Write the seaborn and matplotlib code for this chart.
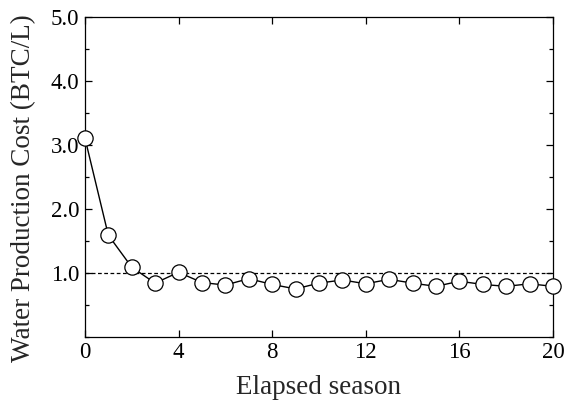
"""Water production cost over elapsed seasons."""
import numpy as np
import pandas as pd
import matplotlib
matplotlib.use("Agg")
import matplotlib.pyplot as plt
from matplotlib.ticker import MultipleLocator, FixedLocator
import seaborn as sns

# data
seasons = list(range(0, 21))
cost = [3.11, 1.59, 1.09, 0.84, 1.01, 0.85, 0.81, 0.91, 0.82, 0.75, 0.84,
        0.89, 0.83, 0.90, 0.84, 0.79, 0.87, 0.82, 0.79, 0.83, 0.79]
reference_cost = 1.0

x_ticks = [0, 4, 8, 12, 16, 20]
y_ticks = [1.0, 2.0, 3.0, 4.0, 5.0]

sns.set_style("ticks")
plt.rcParams['font.family'] = ['Liberation Serif', 'DejaVu Serif']
plt.rcParams['mathtext.fontset'] = 'stix'

df = pd.DataFrame({'season': seasons, 'cost': cost})

fig = plt.figure(figsize=(5.66, 4.03), dpi=100)
ax = fig.add_axes([0.150, 0.164, 0.827, 0.794])

ax.axhline(reference_cost, color='black', lw=0.9, ls=(0, (3, 2)), zorder=1)
sns.lineplot(data=df, x='season', y='cost', ax=ax, color='black', lw=1.0,
             marker='o', markersize=11, markerfacecolor='white',
             markeredgecolor='black', markeredgewidth=0.9, clip_on=False,
             zorder=3)

ax.set_xlim(0, 20)
ax.set_ylim(0, 5)
ax.xaxis.set_major_locator(FixedLocator(x_ticks))
ax.set_xticklabels([str(t) for t in x_ticks])
ax.yaxis.set_major_locator(FixedLocator(y_ticks))
ax.set_yticklabels([f"{t:.1f}" for t in y_ticks])
ax.yaxis.set_minor_locator(MultipleLocator(0.5))

ax.tick_params(which='both', direction='in', top=True, right=True,
               labelsize=16.5, width=0.9, colors='black')
ax.tick_params(which='major', length=5, pad=4)
ax.tick_params(which='minor', length=3)
for s in ax.spines.values():
    s.set_linewidth(0.9)
    s.set_color('black')

ax.set_xlabel('Elapsed season', fontsize=19.5, labelpad=8)
ax.set_ylabel('Water Production Cost (BTC/L)', fontsize=19.5)
ax.yaxis.set_label_coords(-0.105, 0.466)

fig.savefig('out.png', dpi=100)
